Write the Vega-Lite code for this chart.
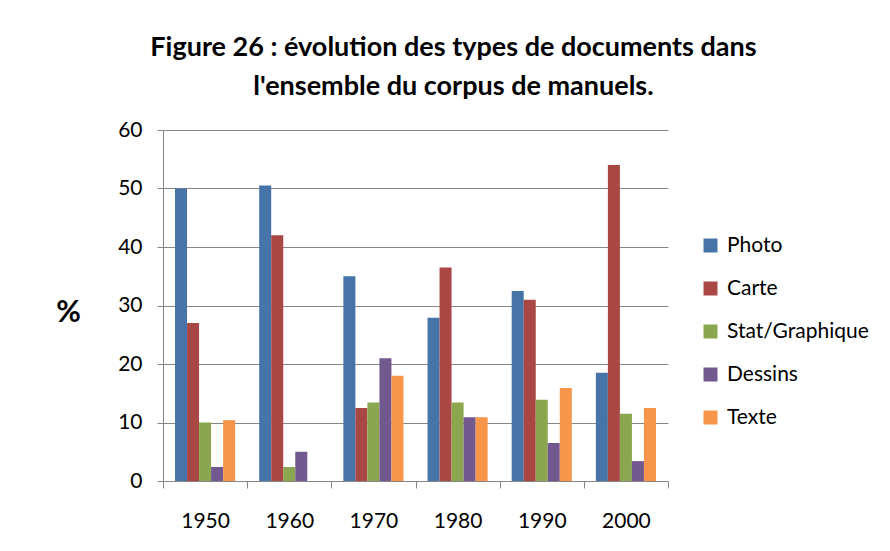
{
  "$schema": "https://vega.github.io/schema/vega-lite/v6.json",
  "width": 505,
  "height": 351,
  "autosize": {"type": "none"},
  "padding": {"left": 163, "top": 130, "right": 222, "bottom": 70},
  "background": "white",
  "title": {
    "text": ["Figure 26 : évolution des types de documents dans", "l'ensemble du corpus de manuels."],
    "font": "Lato",
    "fontSize": 27,
    "fontWeight": "bold",
    "color": "#000000",
    "anchor": "middle",
    "dx": 38,
    "lineHeight": 39,
    "offset": 18
  },
  "data": {
    "values": [
      {"annee": "1950", "type": "Photo", "val": 50},
      {"annee": "1950", "type": "Carte", "val": 27},
      {"annee": "1950", "type": "Stat/Graphique", "val": 10},
      {"annee": "1950", "type": "Dessins", "val": 2.4},
      {"annee": "1950", "type": "Texte", "val": 10.4},
      {"annee": "1960", "type": "Photo", "val": 50.5},
      {"annee": "1960", "type": "Carte", "val": 42},
      {"annee": "1960", "type": "Stat/Graphique", "val": 2.4},
      {"annee": "1960", "type": "Dessins", "val": 5},
      {"annee": "1960", "type": "Texte", "val": 0},
      {"annee": "1970", "type": "Photo", "val": 35},
      {"annee": "1970", "type": "Carte", "val": 12.5},
      {"annee": "1970", "type": "Stat/Graphique", "val": 13.4},
      {"annee": "1970", "type": "Dessins", "val": 21},
      {"annee": "1970", "type": "Texte", "val": 18},
      {"annee": "1980", "type": "Photo", "val": 27.9},
      {"annee": "1980", "type": "Carte", "val": 36.5},
      {"annee": "1980", "type": "Stat/Graphique", "val": 13.4},
      {"annee": "1980", "type": "Dessins", "val": 10.9},
      {"annee": "1980", "type": "Texte", "val": 10.9},
      {"annee": "1990", "type": "Photo", "val": 32.5},
      {"annee": "1990", "type": "Carte", "val": 31},
      {"annee": "1990", "type": "Stat/Graphique", "val": 13.9},
      {"annee": "1990", "type": "Dessins", "val": 6.5},
      {"annee": "1990", "type": "Texte", "val": 15.9},
      {"annee": "2000", "type": "Photo", "val": 18.5},
      {"annee": "2000", "type": "Carte", "val": 54},
      {"annee": "2000", "type": "Stat/Graphique", "val": 11.5},
      {"annee": "2000", "type": "Dessins", "val": 3.4},
      {"annee": "2000", "type": "Texte", "val": 12.5}
    ]
  },
  "mark": {"type": "bar"},
  "encoding": {
    "x": {
      "field": "annee",
      "type": "nominal",
      "scale": {"paddingInner": 0, "paddingOuter": 0},
      "axis": {
        "title": null,
        "labelAngle": 0,
        "tickBand": "extent",
        "grid": false,
        "domainColor": "#868686",
        "tickColor": "#868686",
        "tickSize": 7,
        "labelFont": "Lato",
        "labelFontSize": 21,
        "labelColor": "#000000",
        "labelPadding": 22
      }
    },
    "xOffset": {
      "field": "type",
      "type": "nominal",
      "sort": ["Photo", "Carte", "Stat/Graphique", "Dessins", "Texte"],
      "scale": {"paddingInner": 0, "paddingOuter": 1.25}
    },
    "y": {
      "field": "val",
      "type": "quantitative",
      "scale": {"domain": [0, 60], "nice": false},
      "axis": {
        "values": [0, 10, 20, 30, 40, 50, 60],
        "title": "%",
        "titleAngle": 0,
        "titleFont": "Lato",
        "titleFontSize": 30,
        "titleFontWeight": "bold",
        "titleColor": "#000000",
        "titleX": -95,
        "titleY": 182,
        "titleAlign": "center",
        "titleBaseline": "middle",
        "grid": true,
        "gridColor": "#868686",
        "domainColor": "#868686",
        "tickColor": "#868686",
        "tickSize": 6,
        "labelFont": "Lato",
        "labelFontSize": 21,
        "labelColor": "#000000",
        "labelPadding": 15
      }
    },
    "color": {
      "field": "type",
      "type": "nominal",
      "sort": ["Photo", "Carte", "Stat/Graphique", "Dessins", "Texte"],
      "scale": {
        "domain": ["Photo", "Carte", "Stat/Graphique", "Dessins", "Texte"],
        "range": ["#4673A8", "#A94744", "#8AA64E", "#71598F", "#F7964A"]
      },
      "legend": {
        "title": null,
        "orient": "none",
        "legendX": 537,
        "legendY": 105,
        "symbolType": "square",
        "symbolSize": 196,
        "symbolStrokeWidth": 0,
        "labelFont": "Lato",
        "labelFontSize": 21,
        "labelColor": "#000000",
        "rowPadding": 21,
        "labelOffset": 6
      }
    }
  },
  "config": {
    "view": {"stroke": null}
  }
}
